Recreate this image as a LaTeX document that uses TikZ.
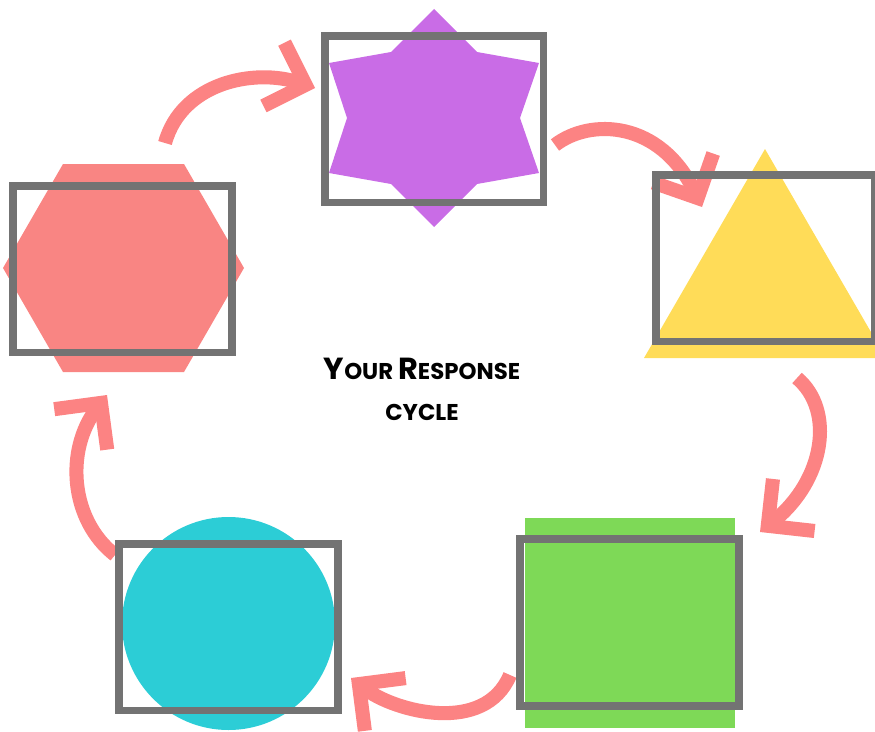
\documentclass[tikz,border=0pt]{standalone}
\usepackage{fontspec}
\setmainfont{Poppins}
\usetikzlibrary{arrows.meta}
\definecolor{hexpink}{RGB}{249,133,131}
\definecolor{arrowpink}{RGB}{252,131,131}
\definecolor{starpurple}{RGB}{201,108,230}
\definecolor{triyellow}{RGB}{255,220,88}
\definecolor{sqgreen}{RGB}{126,217,87}
\definecolor{circcyan}{RGB}{44,205,214}
\definecolor{framegray}{RGB}{115,115,115}
\newcommand{\biginit}[1]{{\fontsize{26}{35}\selectfont #1}}

\begin{document}
\begin{tikzpicture}[x=0.03cm, y=-0.03cm,
  boxframe/.style={draw=framegray, line width=6.8pt, minimum width=6.555cm, minimum height=4.995cm, inner sep=0pt},
  cyclearrow/.style={draw=arrowpink, line width=12pt, -{Straight Barb[length=1.0cm, width=2.0cm]}},
  titletext/.style={align=center, font=\fontsize{19.5}{35}\selectfont\bfseries, inner sep=0pt}
]
  \useasboundingbox (0,0) rectangle (875,731);

  % shapes
  \fill[hexpink] (3,268) -- (63,164) -- (184,164) -- (244,268) -- (184,372) -- (63,372) -- cycle;
  \fill[starpurple] (434,9) -- (477,52) -- (539,63) -- (520,118) -- (539,173) -- (477,184)
    -- (434,227) -- (391,184) -- (329,173) -- (347,118) -- (329,63) -- (391,52) -- cycle;
  \fill[triyellow] (765,149) -- (644,358) -- (886,358) -- cycle;
  \fill[sqgreen] (525,518) rectangle (735,728);
  \fill[circcyan] (228.5,623.5) circle[radius=106.5];

  % arrow ends
  \coordinate (hexout) at (165,143);
  \coordinate (starin) at (315,88);
  \coordinate (starout) at (555,145);
  \coordinate (triin) at (702,207);
  \coordinate (triout) at (797,378);
  \coordinate (sqin) at (760,532);
  \coordinate (sqout) at (510,675);
  \coordinate (circin) at (351,678);
  \coordinate (circout) at (115,555);
  \coordinate (hexin) at (107,395);

  \draw[cyclearrow] (hexout) .. controls (182,82) and (255,68) .. (starin);
  \draw[cyclearrow] (starout) .. controls (590,118) and (660,120) .. (triin);
  \draw[cyclearrow] (triout) .. controls (835,410) and (825,480) .. (sqin);
  \draw[cyclearrow] (sqout) .. controls (485,735) and (395,712) .. (circin);
  \draw[cyclearrow] (circout) .. controls (70,520) and (65,450) .. (hexin);

  % frames
  \node[boxframe] (hexframe) at (122.5,269.25) {};
  \node[boxframe] (starframe) at (434.25,119.25) {};
  \node[boxframe] (triframe) at (765.25,258.25) {};
  \node[boxframe] (sqframe) at (629.5,622.5) {};
  \node[boxframe] (circframe) at (228.5,627.25) {};

  \node[titletext] (cyclename) at (422,389) {\biginit{Y}OUR \biginit{R}ESPONSE\\CYCLE};
\end{tikzpicture}
\end{document}
